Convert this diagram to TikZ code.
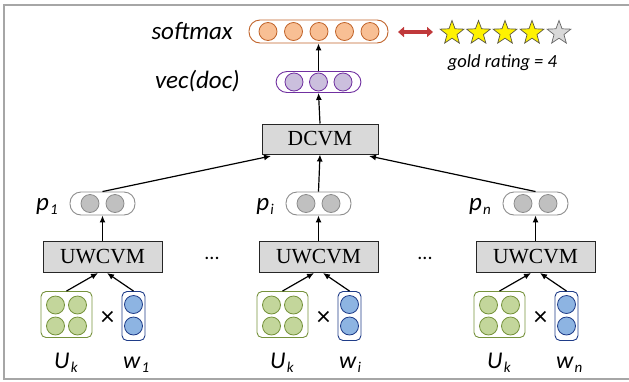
\documentclass[tikz,border=0pt]{standalone}
\usepackage{fontspec}
\setmainfont{Carlito}
\newfontfamily\serifx{Liberation Serif}
\usetikzlibrary{arrows.meta,shapes.geometric,calc}
\definecolor{orfill}{HTML}{F8BF94}
\definecolor{ordraw}{HTML}{C0632A}
\definecolor{pufill}{HTML}{CBBFDD}
\definecolor{pudraw}{HTML}{7030A0}
\definecolor{grfill}{HTML}{C0C0C0}
\definecolor{grdraw}{HTML}{8C8C8C}
\definecolor{gnfill}{HTML}{C3D69B}
\definecolor{gndraw}{HTML}{76923C}
\definecolor{blfill}{HTML}{8DB4E2}
\definecolor{bldraw}{HTML}{1F3C88}
\definecolor{boxgray}{HTML}{D9D9D9}
\definecolor{framegray}{HTML}{A6A6A6}
\definecolor{redarr}{HTML}{C0393B}
\newcommand{\lsub}[1]{\kern1.2pt\raisebox{-4.5pt}{\fontsize{15}{15}\selectfont\itshape #1}}
\tikzset{
  dot/.style={circle,minimum size=18pt,inner sep=0pt,line width=0.8pt},
  odot/.style={dot,fill=orfill,draw=ordraw},
  pdot/.style={dot,fill=pufill,draw=pudraw},
  gdot/.style={dot,fill=grfill,draw=grdraw},
  ndot/.style={dot,fill=gnfill,draw=gndraw},
  bdot/.style={dot,fill=blfill,draw=bldraw},
  pill/.style={rectangle,rounded corners=11pt,inner sep=0pt,line width=0.9pt},
  proc/.style={rectangle,draw=black!85,fill=boxgray,line width=1pt,inner sep=0pt,
    font=\serifx\fontsize{21.5}{24}\selectfont},
  lab/.style={font=\fontsize{25}{28}\selectfont\itshape,inner sep=0pt},
  labs/.style={font=\fontsize{24}{28}\selectfont\itshape,inner sep=0pt},
  conn/.style={-{Latex[length=7pt,width=6pt]},line width=1.2pt},
  starn/.style={star,star points=5,star point ratio=2.4,minimum size=25pt,inner sep=0pt,line width=0.7pt},
}
\begin{document}
\begin{tikzpicture}[x=1pt,y=-1pt]
\useasboundingbox (0,0) rectangle (629,381);
% frame
\draw[framegray,line width=1.5pt] (629,5) -- (4,5) -- (4,379) -- (629,379);

% softmax
\node[pill,draw=ordraw,minimum width=139pt,minimum height=23pt] (sm) at (318.5,31.5) {};
\foreach \i/\x in {1/268,2/293.5,3/319,4/344.5,5/370}
  \node[odot] (sm\i) at (\x,31.5) {};
\node[lab,anchor=base east] (smlab) at (233,39) {softmax};
\coordinate (ra) at (398,32);
\coordinate (rb) at (433,32);
\draw[redarr,line width=4pt,{Triangle[length=6pt,width=10pt]}-{Triangle[length=6pt,width=10pt]}] (ra) -- (rb);
\foreach \i/\x in {1/452,2/478.5,3/505,4/532}
  \node[starn,fill=yellow,draw=black!75!yellow] (st\i) at (\x,33) {};
\node[starn,fill=boxgray,draw=black!60] (st5) at (559,33) {};
\node[font=\fontsize{18.5}{20}\selectfont\itshape,inner sep=0pt,anchor=base] (gold) at (502.5,67) {gold rating = 4};

% vec(doc)
\node[pill,draw=pudraw,minimum width=85pt,minimum height=21pt] (vd) at (318.5,82) {};
\foreach \i/\x in {1/294,2/318.5,3/343}
  \node[pdot] (vd\i) at (\x,82) {};
\node[lab,anchor=base east] (vdlab) at (240,88) {vec(doc)};

% DCVM
\node[proc,minimum width=116pt,minimum height=30pt] (dcvm) at (320,139) {DCVM};

\draw[conn] (vd.north) -- (sm.south);
\draw[conn] (dcvm.north) -- (vd.south);

% lower groups
\foreach \k/\cx/\sub in {1/102.5/1,2/318.5/i,3/535.5/n}{
  \node[pill,draw=grdraw,minimum width=65pt,minimum height=23pt] (p\k) at (\cx,203.5) {};
  \node[gdot] (p\k a) at (\cx-12.5,203.5) {};
  \node[gdot] (p\k b) at (\cx+12.5,203.5) {};
  \node[lab,anchor=base east] (pl\k) at (\cx-44.5,210) {p\lsub{\sub}};
  \node[proc,minimum width=119pt,minimum height=31pt] (uw\k) at (\cx,256.5) {UWCVM};
  \draw[conn] (uw\k.north) -- (p\k.south);
  % U_k
  \node[rectangle,rounded corners=5pt,draw=gndraw,line width=0.9pt,minimum width=51pt,minimum height=46pt,inner sep=0pt] (U\k) at (\cx-36,314.5) {};
  \node[ndot] at (\cx-47,305) {};
  \node[ndot] at (\cx-25,305) {};
  \node[ndot] at (\cx-47,326) {};
  \node[ndot] at (\cx-25,326) {};
  \node[font=\fontsize{27}{30}\selectfont,inner sep=0pt] (x\k) at (\cx+5,318) {×};
  % w
  \node[rectangle,rounded corners=5pt,draw=bldraw,line width=0.9pt,minimum width=23pt,minimum height=49pt,inner sep=0pt] (w\k) at (\cx+31,316) {};
  \node[bdot] at (\cx+31,304.5) {};
  \node[bdot] at (\cx+31,326) {};
  \node[labs,anchor=base west] (Ul\k) at (\cx-48.5,368) {U\lsub{k}};
  \node[labs,anchor=base west] (wl\k) at (\cx+20.5,368) {w\lsub{\sub}};
  \coordinate (ua\k) at (\cx-4.5,273);
  \coordinate (ub\k) at (\cx+4.5,273);
  \draw[conn] (U\k.north) -- (ua\k);
  \draw[conn] (w\k.north) -- (ub\k);
}
\node[font=\fontsize{20}{24}\selectfont,inner sep=0pt] (dots1) at (212,258) {...};
\node[font=\fontsize{20}{24}\selectfont,inner sep=0pt] (dots2) at (425,258) {...};

\coordinate (dl) at (271,156);
\coordinate (dr) at (369,156);
\draw[conn] (p1.north) -- (dl);
\draw[conn] (p2.north) -- (dcvm.south);
\draw[conn] (p3.north) -- (dr);
\end{tikzpicture}
\end{document}
